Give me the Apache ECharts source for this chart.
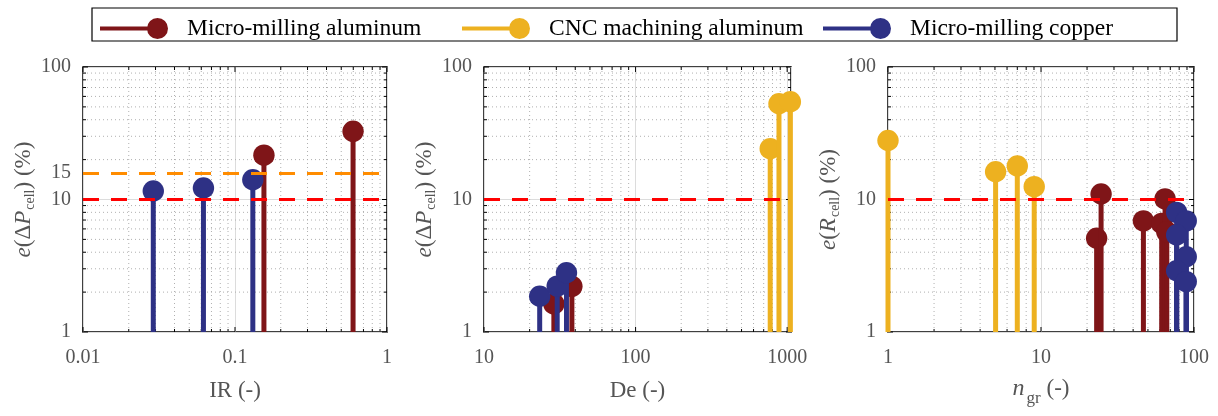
<!DOCTYPE html>
<html>
<head>
<meta charset="utf-8">
<script src="https://cdn.jsdelivr.net/npm/echarts@6/dist/echarts.min.js"></script>
<style>html,body{margin:0;padding:0;background:#fff}#c{width:1218px;height:416px}</style>
</head>
<body>
<div id="c"></div>
<script>
// ---- data ----
const seriesNames = ['Micro-milling aluminum', 'CNC machining aluminum', 'Micro-milling copper'];
const irRed = [[0.155, 21.6], [0.598, 32.7]];
const irYellow = [];
const irBlue = [[0.029, 11.6], [0.062, 12.2], [0.131, 14.1]];
const deRed = [[28.9, 1.63], [38.0, 2.21]];
const deYellow = [[773, 24.2], [883, 52.8], [1050, 54.7]];
const deBlue = [[23.3, 1.86], [30.4, 2.22], [35.0, 2.8]];
const ngrRed = [[23.1, 5.1], [24.7, 11.0], [46.7, 6.9], [61.5, 6.6], [64.7, 10.1], [66.4, 5.7]];
const ngrYellow = [[1.0, 27.9], [5.05, 16.2], [7.0, 17.9], [9.03, 12.5]];
const ngrBlue = [[77, 8.0], [89, 6.9], [77, 5.4], [89, 3.7], [77, 2.9], [89, 2.4]];
const thresholdRed = 10;
const thresholdOrange = 15.8;
const thresholdOrangeLabel = '15';
// axis ticks
const yMajor = [1, 10, 100];
const yMinor = [2, 3, 4, 5, 6, 7, 8, 9, 20, 30, 40, 50, 60, 70, 80, 90];
const irMajor = [0.01, 0.1, 1];
const irMinor = [0.02, 0.03, 0.04, 0.05, 0.06, 0.07, 0.08, 0.09, 0.2, 0.3, 0.4, 0.5, 0.6, 0.7, 0.8, 0.9];
const deMajor = [10, 100, 1000];
const deMinor = [20, 30, 40, 50, 60, 70, 80, 90, 200, 300, 400, 500, 600, 700, 800, 900];
const ngrMajor = [1, 10, 100];
const ngrMinor = [2, 3, 4, 5, 6, 7, 8, 9, 20, 30, 40, 50, 60, 70, 80, 90];
const xRanges = [[0.01, 1], [10, 1060], [1, 100]];
const yRange = [1, 100];

// ---- styles ----
const FONT = "'Liberation Serif', 'DejaVu Serif', serif";
const COLORS = ['#7f1518', '#edb120', '#2e3185'];
const GREY = '#555555';
const grids = [
  {left: 83, top: 67, width: 304, height: 265},
  {left: 484, top: 67, width: 307, height: 265},
  {left: 888, top: 67, width: 306, height: 265}
];
const xNameGaps = [47, 47, 38];

function decadeLabel(v) {
  const l = Math.log10(v);
  if (Math.abs(l - Math.round(l)) > 1e-6) return '';
  return String(parseFloat(Number(v).toPrecision(3)));
}

const xNames = ['IR (-)', 'De (-)', '{i|n}{s|gr}{n| (-)}'];
const yNames = ['{i|e}(Δ{i|P}{s|cell}) (%)', '{i|e}(Δ{i|P}{s|cell}) (%)', '{i|e}({i|R}{s|cell}) (%)'];

const xAxes = [], yAxes = [], series = [];
const panels = [
  {red: irRed, yellow: irYellow, blue: irBlue, major: irMajor, minor: irMinor},
  {red: deRed, yellow: deYellow, blue: deBlue, major: deMajor, minor: deMinor},
  {red: ngrRed, yellow: ngrYellow, blue: ngrBlue, major: ngrMajor, minor: ngrMinor}
];

function stemRender(color) {
  return function (params, api) {
    const cs = params.coordSys;
    const p = api.coord([api.value(0), api.value(1)]);
    return {
      type: 'group',
      children: [
        {type: 'line', shape: {x1: p[0], y1: cs.y + cs.height, x2: p[0], y2: p[1]},
         style: {stroke: color, lineWidth: 5, lineCap: 'butt'}},
        {type: 'circle', shape: {cx: p[0], cy: p[1], r: 10.7}, style: {fill: color}}
      ]
    };
  };
}

function xTickRender(params, api) {
  const cs = params.coordSys;
  const x = api.coord([api.value(0), api.value(1)])[0];
  const major = api.value(2) === 1;
  const len = major ? 5 : 3;
  const ch = [];
  if (!major) {
    ch.push({type: 'line', shape: {x1: x, y1: cs.y, x2: x, y2: cs.y + cs.height},
      style: {stroke: '#b0b0b0', lineWidth: 1, lineDash: [1, 3]}});
  }
  ch.push({type: 'line', shape: {x1: x, y1: cs.y + cs.height, x2: x, y2: cs.y + cs.height - len}, style: {stroke: '#000', lineWidth: 1}});
  ch.push({type: 'line', shape: {x1: x, y1: cs.y, x2: x, y2: cs.y + len}, style: {stroke: '#000', lineWidth: 1}});
  return {type: 'group', children: ch};
}
function yTickRender(params, api) {
  const cs = params.coordSys;
  const y = api.coord([api.value(0), api.value(1)])[1];
  const major = api.value(2) === 1;
  const len = major ? 5 : 3;
  const ch = [];
  if (!major) {
    ch.push({type: 'line', shape: {x1: cs.x, y1: y, x2: cs.x + cs.width, y2: y},
      style: {stroke: '#b0b0b0', lineWidth: 1, lineDash: [1, 3]}});
  }
  ch.push({type: 'line', shape: {x1: cs.x, y1: y, x2: cs.x + len, y2: y}, style: {stroke: '#000', lineWidth: 1}});
  ch.push({type: 'line', shape: {x1: cs.x + cs.width, y1: y, x2: cs.x + cs.width - len, y2: y}, style: {stroke: '#000', lineWidth: 1}});
  return {type: 'group', children: ch};
}

const richName = {
  i: {fontStyle: 'italic', fontSize: 23, fontFamily: FONT, color: GREY},
  n: {fontSize: 23, fontFamily: FONT, color: GREY},
  s: {fontSize: 14, fontFamily: FONT, color: GREY, padding: [12, 0, 0, 1]}
};
const richNameX = {
  i: {fontStyle: 'italic', fontSize: 24, fontFamily: FONT, color: GREY},
  n: {fontSize: 23, fontFamily: FONT, color: GREY},
  s: {fontSize: 17, fontFamily: FONT, color: GREY, padding: [20, 0, 0, 2]}
};

panels.forEach(function (pn, k) {
  xAxes.push({
    type: 'log', logBase: 10, gridIndex: k, min: xRanges[k][0], max: xRanges[k][1],
    axisLine: {show: false}, axisTick: {show: false},
    axisLabel: {color: GREY, fontSize: 20, fontFamily: FONT, margin: 16, formatter: decadeLabel,
      showMinLabel: true, showMaxLabel: true},
    splitLine: {show: true, lineStyle: {color: '#dcdcdc', width: 1}},
    name: xNames[k], nameLocation: 'middle', nameGap: xNameGaps[k],
    nameTextStyle: {color: GREY, fontSize: 23, fontFamily: FONT, rich: richNameX}
  });
  yAxes.push({
    type: 'log', logBase: 10, gridIndex: k, min: yRange[0], max: yRange[1],
    axisLine: {show: false}, axisTick: {show: false},
    axisLabel: {color: GREY, fontSize: 20, fontFamily: FONT, margin: 12, formatter: decadeLabel,
      showMinLabel: true, showMaxLabel: true},
    splitLine: {show: true, lineStyle: {color: '#dcdcdc', width: 1}},
    name: yNames[k], nameLocation: 'middle', nameGap: 46,
    nameTextStyle: {color: GREY, fontSize: 23, fontFamily: FONT, rich: richName}
  });
  // minor grid + ticks
  const xt = pn.major.map(v => [v, 10, 1]).concat(pn.minor.map(v => [v, 10, 0]));
  const yt = yMajor.map(v => [xRanges[k][0], v, 1]).concat(yMinor.map(v => [xRanges[k][0], v, 0]));
  series.push({type: 'custom', name: 'xt' + k, xAxisIndex: k, yAxisIndex: k, data: xt, renderItem: xTickRender, silent: true, z: 1});
  series.push({type: 'custom', name: 'yt' + k, xAxisIndex: k, yAxisIndex: k, data: yt, renderItem: yTickRender, silent: true, z: 1});
  // stems
  [pn.red, pn.yellow, pn.blue].forEach(function (d, j) {
    series.push({
      type: 'custom', name: seriesNames[j], xAxisIndex: k, yAxisIndex: k,
      data: d, renderItem: stemRender(COLORS[j]), itemStyle: {color: COLORS[j]}, z: 2 + j * 0.1, clip: false
    });
  });
  // threshold lines
  const ml = [{yAxis: thresholdRed, lineStyle: {color: '#ff0000', width: 3, type: [16, 12]}, label: {show: false}}];
  if (k === 0) {
    ml.push({yAxis: thresholdOrange, lineStyle: {color: '#ff8c00', width: 3, type: [16, 12]},
      label: {show: true, position: 'start', formatter: thresholdOrangeLabel, color: GREY, fontSize: 20, fontFamily: FONT, distance: 12}});
  }
  series.push({
    type: 'line', name: 'ref' + k, xAxisIndex: k, yAxisIndex: k, data: [], z: 5,
    markLine: {silent: true, symbol: ['none', 'none'], animation: false, data: ml}
  });
});

const ICON = 'path://M0,8.5L50,8.5L50,12.5L0,12.5Z M47,10.5A10.5,10.5,0,1,1,68,10.5A10.5,10.5,0,1,1,47,10.5Z';
const legendLefts = [100, 462, 823];
const legends = seriesNames.map(function (nm, j) {
  return {
    data: [{name: nm, icon: ICON}], left: legendLefts[j], top: 16.5, padding: 0,
    itemWidth: 68, itemHeight: 21, selectedMode: false,
    textStyle: {fontSize: 23.5, fontFamily: FONT, color: '#000', padding: [0, 0, 0, 14]}
  };
});

const chart = echarts.init(document.getElementById('c'), null, {renderer: 'canvas'});
chart.setOption({
  animation: false,
  color: COLORS,
  backgroundColor: '#fff',
  grid: grids.map(g => Object.assign({show: true, borderColor: '#000', borderWidth: 1.5, backgroundColor: 'transparent',
    containLabel: false, outerBoundsMode: 'none'}, g)),
  legend: legends,
  graphic: [{type: 'rect', shape: {x: 92, y: 8, width: 1085, height: 33}, style: {fill: 'none', stroke: '#000', lineWidth: 1.2}, silent: true, z: 0}],
  xAxis: xAxes,
  yAxis: yAxes,
  series: series
});
</script>
</body>
</html>
